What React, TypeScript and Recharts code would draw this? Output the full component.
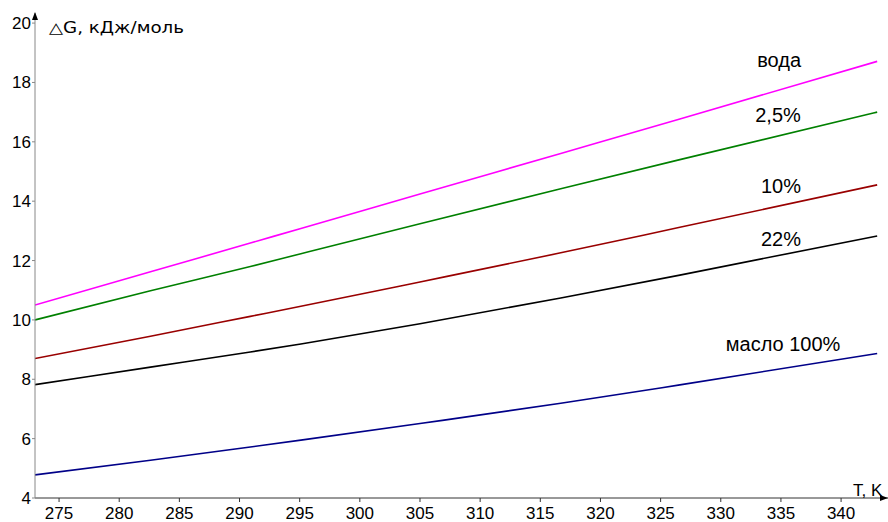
import React from 'react';
import { LineChart, Line, XAxis, YAxis, ReferenceDot } from 'recharts';

const temps = [273, 282.6, 290.9, 295.1, 305.0, 316.7, 326.6, 343];

const voda = [10.5, 11.62, 12.59, 13.08, 14.24, 15.61, 16.77, 18.71];
const p2_5 = [10.0, 10.98, 11.8, 12.23, 13.24, 14.42, 15.4, 17.0];
const p10 = [8.7, 9.45, 10.12, 10.46, 11.28, 12.26, 13.12, 14.55];
const p22 = [7.82, 8.41, 8.92, 9.19, 9.87, 10.74, 11.51, 12.83];
const maslo = [4.78, 5.27, 5.72, 5.95, 6.51, 7.19, 7.81, 8.87];

const xTicks = [275, 280, 285, 290, 295, 300, 305, 310, 315, 320, 325, 330, 335, 340];
const yTicks = [4, 6, 8, 10, 12, 14, 16, 18, 20];

const seriesLabels = ['вода', '2,5%', '10%', '22%', 'масло 100%'];
const labelT = [334.85, 334.76, 335.0, 335.0, 335.18];
const labelV = [18.76, 16.9, 14.51, 12.73, 9.19];

const data = temps.map((t, i) => ({
	t,
	voda: voda[i],
	p2_5: p2_5[i],
	p10: p10[i],
	p22: p22[i],
	maslo: maslo[i],
}));

const lines = [
	{ key: 'voda', color: '#ff00ff' },
	{ key: 'p2_5', color: '#008000' },
	{ key: 'p10', color: '#990000' },
	{ key: 'p22', color: '#000000' },
	{ key: 'maslo', color: '#000088' },
];

const font = '"Liberation Sans", Arial, sans-serif';

export default function App() {
	return (
		<div style={{ position: 'absolute', left: 0, top: 0, width: 888, height: 522, background: '#fff', fontFamily: font }}>
			<LineChart
				width={888}
				height={522}
				data={data}
				margin={{ top: 13, right: 0, bottom: 0, left: 0 }}
			>
				<XAxis
					dataKey='t'
					type='number'
					domain={[273, 343.9]}
					ticks={xTicks}
					allowDataOverflow
					height={24}
					tickSize={4}
					tickMargin={5}
					stroke='#333'
					tick={{ fill: '#000', fontSize: 17, fontFamily: font }}
				/>
				<YAxis
					type='number'
					domain={[4, 20.34]}
					ticks={yTicks}
					allowDataOverflow
					width={35}
					tickSize={3}
					tickMargin={1}
					stroke='#888'
					tick={{ fill: '#000', fontSize: 17, fontFamily: font }}
				/>
				{lines.map((l) => (
					<Line
						key={l.key}
						type='monotone'
						dataKey={l.key}
						stroke={l.color}
						strokeWidth={1.6}
						dot={false}
						isAnimationActive={false}
					/>
				))}
				{seriesLabels.map((s, i) => (
					<ReferenceDot
						key={s}
						x={labelT[i]}
						y={labelV[i]}
						r={0}
						fill='none'
						stroke='none'
						label={{ value: s, position: 'center', fill: '#000', fontSize: 20, fontFamily: font }}
					/>
				))}
			</LineChart>
			<svg
				width={888}
				height={522}
				style={{ position: 'absolute', left: 0, top: 0, pointerEvents: 'none' }}
			>
				<polygon points='35,12 32,20 38,20' fill='#000' />
				<polygon points='888,498 880,495 880,501' fill='#000' />
				<text
					x={49}
					y={33}
					fontSize={15}
					fontFamily='"DejaVu Sans", sans-serif'
					fill='#000'
					textLength={135}
					lengthAdjust='spacingAndGlyphs'
				>
					△G, кДж/моль
				</text>
				<text x={853} y={496} fontSize={17} fontFamily={font} fill='#000'>
					T, K
				</text>
			</svg>
		</div>
	);
}
